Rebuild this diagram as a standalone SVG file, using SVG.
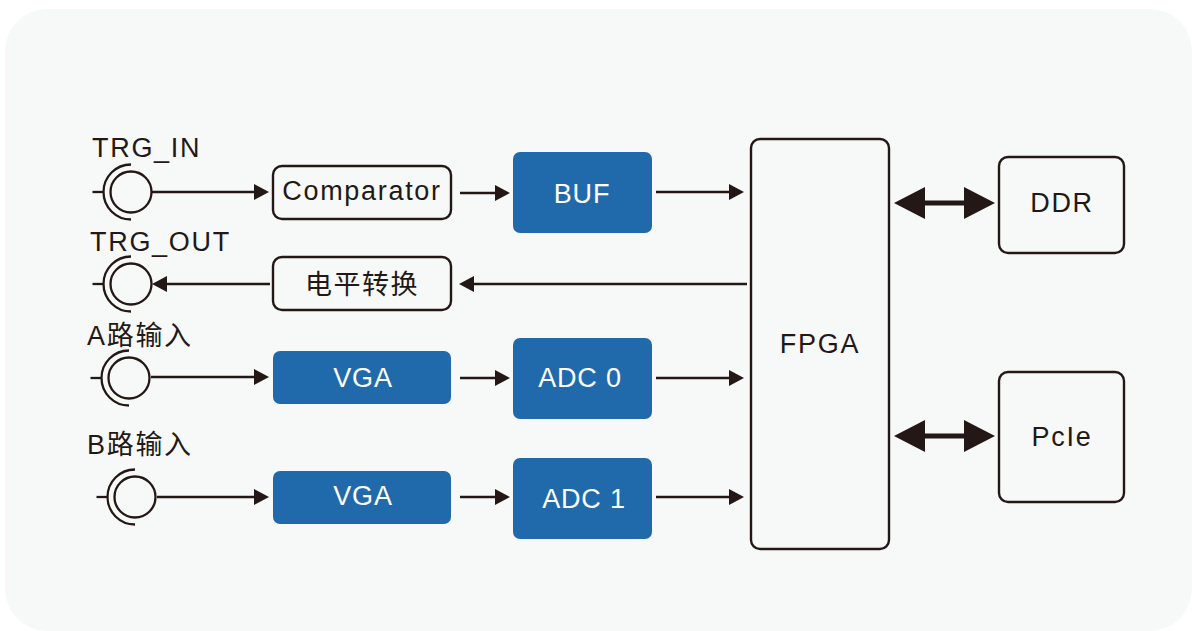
<svg xmlns="http://www.w3.org/2000/svg" width="1192" height="631" viewBox="0 0 1192 631">
<style>
.t{font-family:"Liberation Sans","Noto Sans CJK SC",sans-serif;font-size:27px;fill:#231815;letter-spacing:1.7px}
.c{text-anchor:middle}
.z{letter-spacing:1.5px}
.w{fill:#fff;letter-spacing:.8px}
.box{fill:none;stroke:#231815;stroke-width:2.4}
.blue{fill:#206aab}
.ln{fill:none;stroke:#231815;stroke-width:2.3}
.thick{fill:none;stroke:#231815;stroke-width:5}
.ah{fill:#231815}
</style>
<defs>
<g id="jack"><circle cx="0" cy="0" r="20.5" class="ln"/><path d="M0 -27.5A27.5 27.5 0 0 0 0 27.5" class="ln"/><path d="M-38.5 0H-27.5" class="ln"/></g>
<marker id="a" markerUnits="userSpaceOnUse" markerWidth="16" markerHeight="16" refX="8" refY="8" orient="auto-start-reverse"><path d="M0 0L15 8L0 16Z" class="ah"/></marker>
<marker id="b" markerUnits="userSpaceOnUse" markerWidth="32" markerHeight="32" refX="15" refY="16" orient="auto-start-reverse"><path d="M0 0L31 16L0 32Z" class="ah"/></marker>
</defs>
<rect id="bg" x="5" y="9" width="1187" height="622" rx="42" fill="#f7f9f9"/>
<g id="connectors">
<path class="ln" marker-end="url(#a)" d="M152 192H262"/>
<path class="ln" marker-end="url(#a)" d="M460 193H503"/>
<path class="ln" marker-end="url(#a)" d="M656 192H737"/>
<path class="ln" marker-end="url(#a)" d="M270 284H159"/>
<path class="ln" marker-end="url(#a)" d="M747 284H466"/>
<path class="ln" marker-end="url(#a)" d="M151 377H262"/>
<path class="ln" marker-end="url(#a)" d="M460 378H503"/>
<path class="ln" marker-end="url(#a)" d="M656 378H737"/>
<path class="ln" marker-end="url(#a)" d="M157 497H262"/>
<path class="ln" marker-end="url(#a)" d="M460 497H503"/>
<path class="ln" marker-end="url(#a)" d="M656 497H737"/>
<path class="thick" marker-start="url(#b)" marker-end="url(#b)" d="M910 203H979"/>
<path class="thick" marker-start="url(#b)" marker-end="url(#b)" d="M910 436H979"/>
</g>
<g id="trg_in"><use href="#jack" x="131" y="192"/><text class="t" x="92" y="157">TRG_IN</text></g>
<g id="trg_out"><use href="#jack" x="131" y="284"/><text class="t" x="90" y="251">TRG_OUT</text></g>
<g id="a_in"><use href="#jack" x="129" y="378"/><text class="t" x="87" y="345">A路输入</text></g>
<g id="b_in"><use href="#jack" x="135" y="497"/><text class="t" x="87" y="454">B路输入</text></g>
<g id="comparator"><rect class="box" x="273" y="166" width="178" height="53" rx="9"/><text class="t c" x="362" y="200">Comparator</text></g>
<g id="level"><rect class="box" x="273" y="257" width="178" height="53" rx="9"/><text class="t c z" x="362" y="294">电平转换</text></g>
<g id="buf"><rect class="blue" x="513" y="152" width="139" height="81" rx="7"/><text class="t c w" x="582" y="203">BUF</text></g>
<g id="vga0"><rect class="blue" x="273" y="351" width="178" height="53" rx="7"/><text class="t c w" x="363" y="387">VGA</text></g>
<g id="adc0"><rect class="blue" x="513" y="338" width="139" height="81" rx="7"/><text class="t c w" x="580" y="387">ADC 0</text></g>
<g id="vga1"><rect class="blue" x="273" y="471" width="178" height="53" rx="7"/><text class="t c w" x="363" y="505">VGA</text></g>
<g id="adc1"><rect class="blue" x="513" y="458" width="139" height="81" rx="7"/><text class="t c w" x="584" y="508">ADC 1</text></g>
<g id="fpga"><rect class="box" x="751" y="139" width="138" height="410" rx="9"/><text class="t c" x="820" y="353">FPGA</text></g>
<g id="ddr"><rect class="box" x="999" y="157" width="125" height="96" rx="9"/><text class="t c" x="1062" y="212">DDR</text></g>
<g id="pcie"><rect class="box" x="999" y="372" width="125" height="130" rx="9"/><text class="t c" x="1062" y="446">PcIe</text></g>
</svg>
